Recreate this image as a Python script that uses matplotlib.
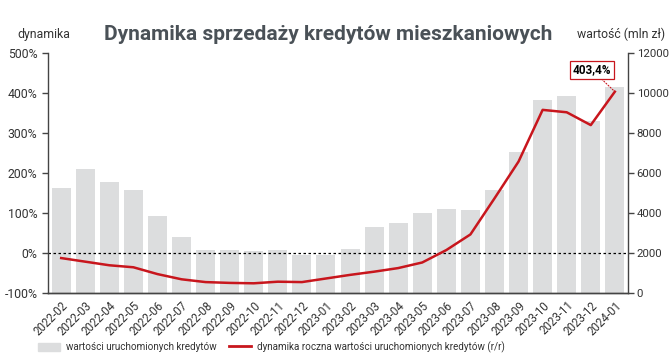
import numpy as np
import matplotlib
matplotlib.use("Agg")
import matplotlib.pyplot as plt
from matplotlib.patches import Patch
from matplotlib.lines import Line2D

plt.rcParams['font.family'] = ['Roboto', 'DejaVu Sans']

################################################################################
# data
months = ["2022-02", "2022-03", "2022-04", "2022-05", "2022-06", "2022-07",
          "2022-08", "2022-09", "2022-10", "2022-11", "2022-12", "2023-01",
          "2023-02", "2023-03", "2023-04", "2023-05", "2023-06", "2023-07",
          "2023-08", "2023-09", "2023-10", "2023-11", "2023-12", "2024-01"]
# wartosci uruchomionych kredytow (mln zl)
values = [5250, 6215, 5580, 5170, 3870, 2830, 2180, 2180, 2100, 2170, 1920, 1920,
          2220, 3330, 3500, 4030, 4230, 4170, 5170, 7080, 9665, 9865, 8615, 10300]
# dynamika roczna (%)
dynamics = [-12, -21, -30, -35, -52, -65, -72, -74, -75, -71, -72, -63,
            -54, -46, -37, -23, 8, 47, 137, 229, 358, 352, 320, 403.4]

label_bars = "wartości uruchomionych kredytów"
label_line = "dynamika roczna wartości uruchomionych kredytów (r/r)"
title = "Dynamika sprzedaży kredytów mieszkaniowych"

################################################################################
txt = "#333333"
bar_col = "#dcddde"
red = "#c8161d"

fig = plt.figure(figsize=(6.7, 3.64), dpi=100)
ax = fig.add_axes([0.0712, 0.1942, 0.8666, 0.6602])
ax2 = ax.twinx()
ax.set_zorder(ax2.get_zorder() + 1)
ax.patch.set_visible(False)

x = np.arange(len(months))
ax2.bar(x, values, width=0.79, color=bar_col, zorder=1)
ax2.set_ylim(0, 12000)
ax2.set_yticks(np.arange(0, 12001, 2000))

ax.plot(x, dynamics, color=red, lw=1.8, zorder=3)
ax.axhline(0, color="black", lw=0.9, ls=(0, (2, 2)), zorder=2)
ax.set_ylim(-100, 500)
ax.set_yticks(np.arange(-100, 501, 100))
ax.set_yticklabels([f"{v}%" for v in range(-100, 501, 100)])
ax.set_xlim(-0.56, len(months) - 0.44)
ax.set_xticks(x)
ax.set_xticklabels(months, rotation=45, ha="right", rotation_mode="anchor")

for a in (ax, ax2):
    a.spines["top"].set_visible(False)
    for s in a.spines.values():
        s.set_color("#444444")
        s.set_linewidth(1.0)
    a.tick_params(colors="#444444", labelcolor=txt, labelsize=8.8, length=4, width=1)
ax.spines["right"].set_visible(False)
ax2.spines["left"].set_visible(False)
ax2.tick_params(axis="y", labelsize=8.2, pad=2)
ax.tick_params(axis="x", length=0, pad=4, labelsize=8.3)

# annotation for last point
ax.annotate("403,4%", xy=(x[-1], dynamics[-1]), xytext=(x[-1] - 0.95, 458),
            ha="center", va="center", fontsize=8.5, fontweight="bold", color="black",
            bbox=dict(boxstyle="square,pad=0.2", fc="white", ec=red, lw=0.9),
            arrowprops=dict(arrowstyle="-", color=red, lw=0.8, ls=":",
                            shrinkA=0, shrinkB=1))

fig.text(0.49, 0.905, title, ha="center", va="center", fontsize=15,
         fontweight="bold", color="#4a5157")
fig.text(0.066, 0.905, "dynamika", ha="center", va="center", fontsize=8.8, color=txt)
fig.text(0.993, 0.905, "wartość (mln zł)", ha="right", va="center", fontsize=8.8, color=txt)

handles = [Patch(color=bar_col), Line2D([], [], color=red, lw=2)]
fig.legend(handles, [label_bars, label_line], loc="center left", bbox_to_anchor=(0.05, 0.047),
           ncol=2, frameon=False, fontsize=7.1, labelcolor=txt, handlelength=2.2,
           handleheight=0.9, columnspacing=1.3, handletextpad=0.6, borderpad=0)

fig.savefig("out.png", dpi=100)
